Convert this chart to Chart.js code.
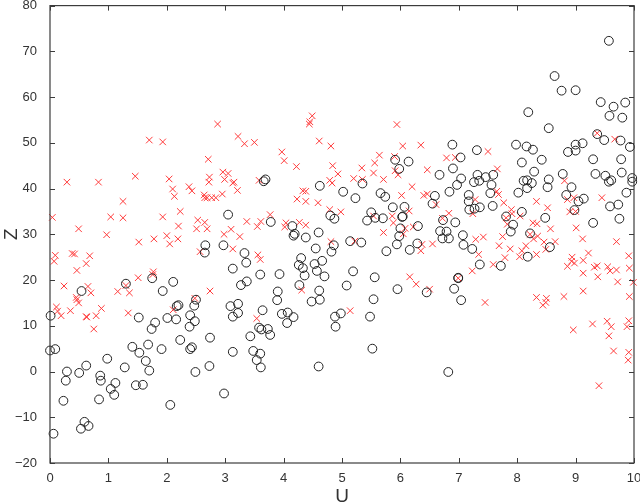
<!DOCTYPE html>
<html>
<head>
<meta charset="utf-8">
<style>
  html, body { margin: 0; padding: 0; background: #fff; }
  #wrap { width: 640px; height: 502px; }
</style>
<script src="https://cdn.jsdelivr.net/npm/chart.js@4"></script>
</head>
<body>
<div id="wrap"><canvas id="chart" width="640" height="502"></canvas></div>
<script>
// values
const uCircle = [
  2.65,1.30,1.75,2.11,0.54,1.93,0.01,1.52,1.80,1.74,2.01,2.16,2.17,2.20,2.47,2.50,2.40,2.48,2.39,2.23,2.74,2.43,2.40,1.91,1.68,1.41,1.53,1.64,1.70,1.28,0.98,0.62,0.09,0.00,0.29,0.50,0.27,0.86,0.87,1.12,1.04,1.10,1.47,1.59,0.84,0.23,2.06,2.49,2.73,0.59,0.66,0.53,0.06,2.66,
  3.69,3.66,4.62,5.02,5.23,5.35,5.91,5.98,6.14,5.66,5.74,5.87,6.07,6.03,6.04,3.05,3.78,4.15,4.80,4.87,5.50,5.43,5.57,5.70,6.30,6.00,
  2.97,3.33,3.36,3.13,3.60,3.93,3.27,3.37,3.90,3.89,3.09,3.22,3.22,3.13,3.64,3.58,3.62,3.73,3.77,3.43,3.13,3.48,3.60,3.54,3.61,2.98,3.97,4.07,4.17,4.06,
  4.17,4.19,4.38,4.60,4.55,4.86,4.82,5.14,5.33,5.76,5.94,5.98,6.16,6.29,4.30,4.26,4.33,4.36,4.53,4.66,4.57,4.70,5.19,5.56,5.08,5.95,6.45,4.27,4.61,4.62,4.48,5.54,4.98,4.88,4.89,5.48,5.52,4.60,
  9.57,8.64,8.76,9.00,9.43,9.65,9.85,9.58,9.80,8.19,8.54,6.89,7.31,7.98,8.16,8.27,7.03,8.08,8.42,9.00,9.12,8.87,9.00,9.37,9.49,9.77,9.93,9.30,9.78,6.90,6.67,7.32,7.59,7.46,7.04,6.97,7.26,7.35,7.56,6.84,6.59,
  8.29,8.11,8.17,8.25,8.17,8.02,8.54,8.52,8.78,8.93,9.34,9.51,9.57,9.61,9.79,9.97,9.97,9.87,8.84,9.05,9.14,9.73,9.59,9.75,8.98,8.48,7.54,7.17,7.17,7.36,7.18,7.27,7.58,8.08,7.81,6.55,9.30,
  6.73,6.94,6.68,6.79,6.72,6.83,7.07,7.08,7.23,7.36,7.72,6.99,6.99,6.92,7.04,6.82,7.93,7.89,8.22,8.56,8.18
];
const zCircle = [
  26.0,19.2,20.4,19.6,17.6,17.6,12.2,11.8,10.7,9.3,11.7,11.4,14.3,14.5,14.4,15.7,12.3,11.0,9.8,6.9,7.4,5.3,4.9,4.9,5.9,5.4,4.1,2.3,0.2,0.9,2.8,1.3,4.9,4.6,0.0,-0.3,-2.0,-0.9,-2.0,-2.5,-3.8,-5.1,-3.0,-2.9,-6.1,-6.4,-7.3,-0.1,1.2,-11.0,-11.9,-12.5,-13.6,27.6,
  42.0,41.6,40.6,39.3,37.9,41.1,46.3,44.3,45.9,39.0,38.2,35.9,36.0,33.8,33.9,34.3,32.7,31.8,34.1,33.4,34.8,33.0,33.6,33.5,31.8,31.3,
  27.6,25.9,23.8,22.5,21.2,21.3,18.9,19.7,17.5,15.6,14.3,14.8,12.8,12.0,13.4,9.6,9.2,9.3,8.0,7.7,4.3,4.5,3.9,2.5,0.9,-4.8,12.6,12.9,11.9,10.6,
  29.7,30.1,29.3,30.4,26.9,27.6,26.2,28.5,28.2,26.3,27.8,29.6,26.6,28.0,24.8,23.3,22.6,21.0,23.5,24.2,22.0,20.8,21.9,20.6,18.8,18.0,17.3,18.9,17.7,15.7,15.3,15.8,12.7,12.0,9.8,12.0,5.0,1.1,
  72.3,64.6,61.4,61.5,58.9,57.9,58.8,55.9,55.5,56.7,53.2,49.6,48.4,49.6,49.2,48.5,46.8,45.7,46.3,49.6,49.9,48.0,48.3,51.9,50.6,50.5,49.1,46.4,46.4,44.4,43.0,43.0,43.0,42.5,42.2,40.8,41.4,41.7,40.8,39.3,38.4,
  43.7,41.7,41.8,41.2,40.1,39.1,42.0,40.3,43.2,40.3,43.2,42.8,41.5,41.8,43.5,42.3,41.5,39.1,38.6,37.2,37.8,36.5,36.1,33.4,35.3,33.6,39.0,38.6,37.2,35.9,35.4,35.6,36.2,34.9,33.9,36.7,32.5,
  33.1,32.6,30.7,30.6,29.1,29.1,29.8,27.7,26.8,23.4,23.1,20.5,20.4,18.1,15.6,-0.1,32.1,30.6,30.2,27.2,25.1
];
const uCross = [
  0.04,0.29,0.83,1.46,1.70,1.93,1.25,0.49,1.04,1.25,0.97,1.52,1.78,1.93,2.00,2.05,2.19,2.20,2.23,2.04,2.10,2.13,2.38,2.43,2.71,2.87,2.73,2.72,2.64,2.65,2.69,2.77,2.84,2.53,2.65,2.51,2.69,
  0.09,0.07,0.38,0.42,0.68,0.62,0.46,0.24,0.65,0.70,0.45,0.46,0.49,0.11,0.13,0.19,0.35,0.62,0.63,0.88,0.79,0.75,1.16,1.36,1.30,1.51,1.77,1.76,1.34,2.11,2.48,2.74,2.57,
  4.49,4.45,4.44,3.22,3.33,3.50,3.97,4.01,4.22,4.61,4.81,5.94,6.04,6.35,4.84,4.93,4.79,4.83,5.20,5.34,5.35,5.56,5.64,5.54,5.71,5.90,5.91,5.96,6.20,6.46,6.02,6.40,6.46,2.96,3.05,2.99,3.15,3.13,3.58,3.21,2.95,4.33,4.38,4.23,4.38,4.59,4.79,4.98,3.77,3.37,3.61,3.55,3.10,4.04,4.02,4.27,4.38,5.54,6.15,5.86,5.88,6.08,6.22,
  2.98,3.25,3.13,3.56,3.60,4.81,5.22,5.71,6.05,6.37,6.55,6.35,6.16,6.27,6.50,4.31,5.14,3.54,
  6.79,6.94,7.50,7.66,7.65,7.68,7.28,7.77,8.33,8.52,7.90,7.91,8.05,8.81,8.86,8.97,9.45,8.90,9.00,9.37,9.67,6.61,6.72,6.83,7.24,7.81,
  7.29,7.42,7.75,7.69,7.88,7.34,7.79,7.59,7.23,6.99,7.45,7.83,8.27,8.34,8.57,8.22,8.35,8.28,8.46,8.65,8.49,8.15,8.08,8.04,8.33,9.01,9.12,9.70,9.22,9.91,8.94,9.13,8.93,8.98,8.86,9.32,9.37,9.55,9.59,9.70,9.92,9.13,9.38,9.72,9.99,9.13,9.92,8.33,8.50,8.80,8.49,8.44,9.29,9.54,9.61,9.91,9.88,8.96,9.57,9.65,9.91,9.90,9.40
];
const zCross = [
  33.7,41.4,41.4,42.7,50.6,50.2,37.2,31.2,33.8,33.6,29.9,28.3,29.0,33.8,29.7,27.9,29.0,31.8,35.0,42.1,39.9,38.3,40.4,39.5,46.4,54.1,42.5,41.4,38.6,38.0,38.0,38.0,38.0,33.1,32.6,31.2,31.2,
  25.4,24.1,25.8,25.7,25.3,23.6,22.1,18.7,18.6,17.2,16.2,15.7,15.0,14.1,13.2,12.2,13.3,12.0,11.9,13.8,12.2,9.3,17.5,17.2,18.8,20.5,21.8,21.2,12.8,13.5,16.0,17.6,26.2,
  55.9,54.6,54.1,51.4,49.8,50.1,48.0,46.1,44.8,50.4,49.3,54.0,49.3,49.5,45.0,43.2,41.8,41.2,42.2,44.5,42.0,45.6,47.3,43.4,42.0,47.0,43.9,43.0,40.4,44.1,38.5,38.5,38.8,43.6,43.3,42.0,41.4,41.2,41.8,39.6,38.8,39.5,39.4,37.7,37.2,36.9,35.4,34.9,34.3,32.8,32.8,31.7,31.1,32.5,31.6,32.6,32.0,34.0,35.1,34.0,32.5,31.3,31.6,
  30.0,29.5,26.8,25.5,24.5,28.4,28.5,30.4,30.1,27.8,27.9,26.4,20.7,19.1,18.0,17.8,13.3,11.6,
  46.7,46.8,48.1,44.3,39.4,38.7,37.6,36.9,37.2,35.8,35.4,34.5,34.0,41.7,37.6,38.0,38.0,34.9,35.0,52.1,50.8,36.5,33.5,34.6,34.5,33.6,
  28.9,29.4,29.5,27.5,26.8,25.6,24.9,23.4,22.0,20.4,15.1,32.2,32.5,32.3,31.2,30.0,29.6,29.0,28.3,28.4,26.7,27.5,26.4,25.1,25.6,31.4,29.0,28.4,25.9,25.3,25.0,24.3,24.1,23.7,23.0,22.8,23.1,22.9,22.0,22.2,22.6,21.5,20.7,19.6,19.5,17.6,16.4,16.2,16.0,16.4,15.1,14.5,10.4,11.0,9.8,11.1,9.8,9.1,7.8,4.5,4.2,2.5,-3.1
];
const uTicks = [0,1,2,3,4,5,6,7,8,9,10];
const zTicks = [-20,-10,0,10,20,30,40,50,60,70,80];

const toPoints = (us, zs) => us.map((u, i) => ({ x: u, y: zs[i] }));
const axisColor = "#3c3c3c";
const textColor = "#333";
const fontFamily = "'Liberation Sans', Arial, sans-serif";

// inward tick marks on all four sides, like the original box
const innerTicks = {
  id: "innerTicks",
  afterDatasetsDraw(c) {
    const { ctx, chartArea: a, scales: { x, y } } = c;
    const len = 5;
    ctx.save();
    ctx.strokeStyle = axisColor;
    ctx.lineWidth = 1;
    ctx.beginPath();
    uTicks.forEach(t => {
      const p = Math.round(x.getPixelForValue(t)) + 0.5;
      ctx.moveTo(p, a.top); ctx.lineTo(p, a.top + len);
      ctx.moveTo(p, a.bottom); ctx.lineTo(p, a.bottom - len);
    });
    zTicks.forEach(t => {
      const p = Math.round(y.getPixelForValue(t)) + 0.5;
      ctx.moveTo(a.left, p); ctx.lineTo(a.left + len, p);
      ctx.moveTo(a.right, p); ctx.lineTo(a.right - len, p);
    });
    ctx.stroke();
    ctx.lineWidth = 1.2;
    ctx.strokeRect(a.left, a.top, a.right - a.left, a.bottom - a.top);
    ctx.restore();
  }
};

new Chart(document.getElementById("chart").getContext("2d"), {
  type: "scatter",
  data: {
    datasets: [{
      label: "circles",
      data: toPoints(uCircle, zCircle),
      pointStyle: "circle",
      pointRadius: 4.4,
      borderWidth: 1,
      borderColor: "#222",
      backgroundColor: "transparent",
      clip: false
    },{
      label: "crosses",
      data: toPoints(uCross, zCross),
      pointStyle: "crossRot",
      pointRadius: 4.6,
      borderWidth: 1,
      borderColor: "#ff3b3b",
      backgroundColor: "transparent",
      clip: false
    }]
  },
  options: {
    responsive: false,
    animation: false,
    layout: { padding: { top: 3, right: 6, left: 0, bottom: 0 } },
    plugins: { legend: { display: false }, tooltip: { enabled: false } },
    scales: {
      x: {
        type: "linear",
        min: 0, max: 10,
        afterFit: s => { s.height = 39; s.paddingLeft = 0; s.paddingRight = 0; },
        afterBuildTicks: s => { s.ticks = uTicks.map(v => ({ value: v })); },
        grid: { display: false },
        border: { display: false },
        ticks: { color: textColor, font: { family: fontFamily, size: 13 }, padding: 0, maxRotation: 0 },
        title: { display: true, text: "U", color: textColor, font: { family: fontFamily, size: 19 }, padding: { top: 0, bottom: -6 } }
      },
      y: {
        type: "linear",
        min: -20, max: 80,
        afterFit: s => { s.width = 50; s.paddingTop = 0; s.paddingBottom = 0; },
        afterBuildTicks: s => { s.ticks = zTicks.map(v => ({ value: v })); },
        grid: { display: false },
        border: { display: false },
        ticks: {
          color: textColor, font: { family: fontFamily, size: 13 }, padding: 5,
          callback: v => String(v).replace("-", "\u2212")
        },
        title: { display: true, text: "Z", color: textColor, font: { family: fontFamily, size: 19 }, padding: { top: 0, bottom: 0 } }
      }
    }
  },
  plugins: [innerTicks]
});
</script>
</body>
</html>
